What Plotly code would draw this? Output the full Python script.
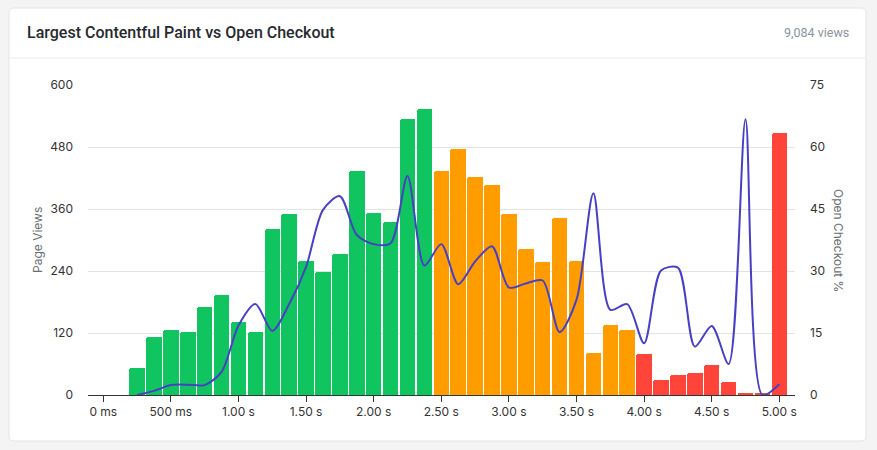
import plotly.graph_objects as go

# LCP buckets (ms) and page views per bucket
buckets_ms = [250, 375, 500, 625, 750, 875, 1000, 1125, 1250, 1375, 1500, 1625, 1750,
              1875, 2000, 2125, 2250, 2375, 2500, 2625, 2750, 2875, 3000, 3125, 3250,
              3375, 3500, 3625, 3750, 3875, 4000, 4125, 4250, 4375, 4500, 4625, 4750,
              4875, 5000]
page_views = [52, 112, 126, 122, 170, 194, 141, 122, 321, 350, 259, 238, 273,
              434, 352, 335, 534, 554, 434, 476, 422, 407, 350, 283, 257,
              343, 259, 81, 136, 126, 79, 29, 39, 43, 58, 25, 2,
              2, 507]
open_checkout_pct = [0, 1.0, 2.4, 2.5, 2.4, 5.6, 16.8, 22.0, 15.5, 22.0, 31.0, 44.8, 48.1,
                     38.7, 36.5, 36.7, 53.0, 31.3, 36.5, 26.8, 32.3, 36.0, 26.0, 27.0, 27.7,
                     15.2, 23.0, 48.8, 20.6, 22.0, 12.5, 30.1, 30.8, 11.7, 16.7, 7.5, 66.7,
                     0, 2.6]

x_tick_vals = [0, 500, 1000, 1500, 2000, 2500, 3000, 3500, 4000, 4500, 5000]
x_tick_text = ["0 ms", "500 ms", "1.00 s", "1.50 s", "2.00 s", "2.50 s", "3.00 s",
               "3.50 s", "4.00 s", "4.50 s", "5.00 s"]
left_ticks = [0, 120, 240, 360, 480, 600]
right_ticks = [0, 15, 30, 45, 60, 75]

title = "Largest Contentful Paint vs Open Checkout"
views_label = "9,084 views"

GOOD, NEEDS_WORK, POOR = "#10c55f", "#ff9d00", "#ff453a"
LINE = "#4840c4"
PAGE_BG = "#f4f4f5"

W, H = 877, 450
PLOT_L, PLOT_R, PLOT_T, PLOT_B = 88, 795, 85, 395


def px_x(px):
    return (px - PLOT_L) / (PLOT_R - PLOT_L)


def px_y(py):
    return (PLOT_B - py) / (PLOT_B - PLOT_T)


def bar_color(ms):
    if ms < 2500:
        return GOOD
    if ms < 4000:
        return NEEDS_WORK
    return POOR


fig = go.Figure()
fig.add_trace(
    go.Bar(
        x=buckets_ms,
        y=page_views,
        width=115,
        marker={"color": [bar_color(v) for v in buckets_ms], "cornerradius": 2, "line": {"width": 0}},
        name="Page Views",
        hoverinfo="skip",
    )
)
fig.add_trace(
    go.Scatter(
        x=buckets_ms,
        y=open_checkout_pct,
        yaxis="y2",
        mode="lines",
        line={"color": LINE, "width": 2, "shape": "spline", "smoothing": 0.8},
        name="Open Checkout %",
        hoverinfo="skip",
    )
)

# card and header
x0, x1, y0, y1 = px_x(9), px_x(866), px_y(441), px_y(8)
r = 5
rx, ry = r / (PLOT_R - PLOT_L), r / (PLOT_B - PLOT_T)
card_path = (
    f"M {x0 + rx} {y1} L {x1 - rx} {y1} Q {x1} {y1} {x1} {y1 - ry} "
    f"L {x1} {y0 + ry} Q {x1} {y0} {x1 - rx} {y0} L {x0 + rx} {y0} "
    f"Q {x0} {y0} {x0} {y0 + ry} L {x0} {y1 - ry} Q {x0} {y1} {x0 + rx} {y1} Z"
)
shapes = [
    {"type": "path", "path": card_path, "xref": "paper", "yref": "paper",
     "fillcolor": "white", "line": {"color": "#e3e4e6", "width": 1}, "layer": "below"},
    {"type": "line", "xref": "paper", "yref": "paper", "x0": px_x(10), "x1": px_x(865),
     "y0": px_y(58), "y1": px_y(58), "line": {"color": "#e8e9eb", "width": 1}, "layer": "below"},
]

annotations = [
    {"text": title, "xref": "paper", "yref": "paper", "x": px_x(25), "y": px_y(32),
     "xanchor": "left", "yanchor": "middle", "showarrow": False,
     "font": {"size": 16, "color": "#26292e", "family": "Roboto, sans-serif", "weight": 500}},
    {"text": views_label, "xref": "paper", "yref": "paper", "x": px_x(851), "y": px_y(32),
     "xanchor": "right", "yanchor": "middle", "showarrow": False,
     "font": {"size": 12.5, "color": "#8a939e", "family": "Roboto, sans-serif"}},
    {"text": "Page Views", "xref": "paper", "yref": "paper", "x": px_x(37), "y": 0.5,
     "xanchor": "center", "yanchor": "middle", "textangle": -90, "showarrow": False,
     "font": {"size": 12, "color": "#6b6f75"}},
    {"text": "Open Checkout %", "xref": "paper", "yref": "paper", "x": px_x(839), "y": 0.5,
     "xanchor": "center", "yanchor": "middle", "textangle": 90, "showarrow": False,
     "font": {"size": 12, "color": "#6b6f75"}},
]

fig.update_layout(
    width=W,
    height=H,
    margin={"l": PLOT_L, "r": W - PLOT_R, "t": PLOT_T, "b": H - PLOT_B, "pad": 0},
    paper_bgcolor=PAGE_BG,
    plot_bgcolor="rgba(0,0,0,0)",
    font={"family": "Inter, sans-serif", "size": 12, "color": "#333333"},
    showlegend=False,
    bargap=0,
    shapes=shapes,
    annotations=annotations,
    xaxis={
        "range": [-113, 5116],
        "tickvals": x_tick_vals,
        "ticktext": x_tick_text,
        "ticks": "outside",
        "ticklen": 6,
        "tickcolor": "#333333",
        "showline": True,
        "linecolor": "#333333",
        "linewidth": 1,
        "showgrid": False,
        "zeroline": False,
        "fixedrange": True,
    },
    yaxis={
        "range": [0, 600],
        "tickvals": left_ticks,
        "showgrid": True,
        "gridcolor": "#e3e3e3",
        "zeroline": False,
        "ticks": "",
        "ticklabelstandoff": 14,
        "fixedrange": True,
    },
    yaxis2={
        "range": [0, 75],
        "tickvals": right_ticks,
        "overlaying": "y",
        "side": "right",
        "showgrid": False,
        "zeroline": False,
        "ticks": "",
        "ticklabelstandoff": 14,
        "fixedrange": True,
    },
)

# drop the default body margin so the card sits where the reference has it
fig.write_html(
    "out.html",
    config={"displayModeBar": False},
    post_script=f"document.body.style.margin='0';document.body.style.background='{PAGE_BG}';",
)
